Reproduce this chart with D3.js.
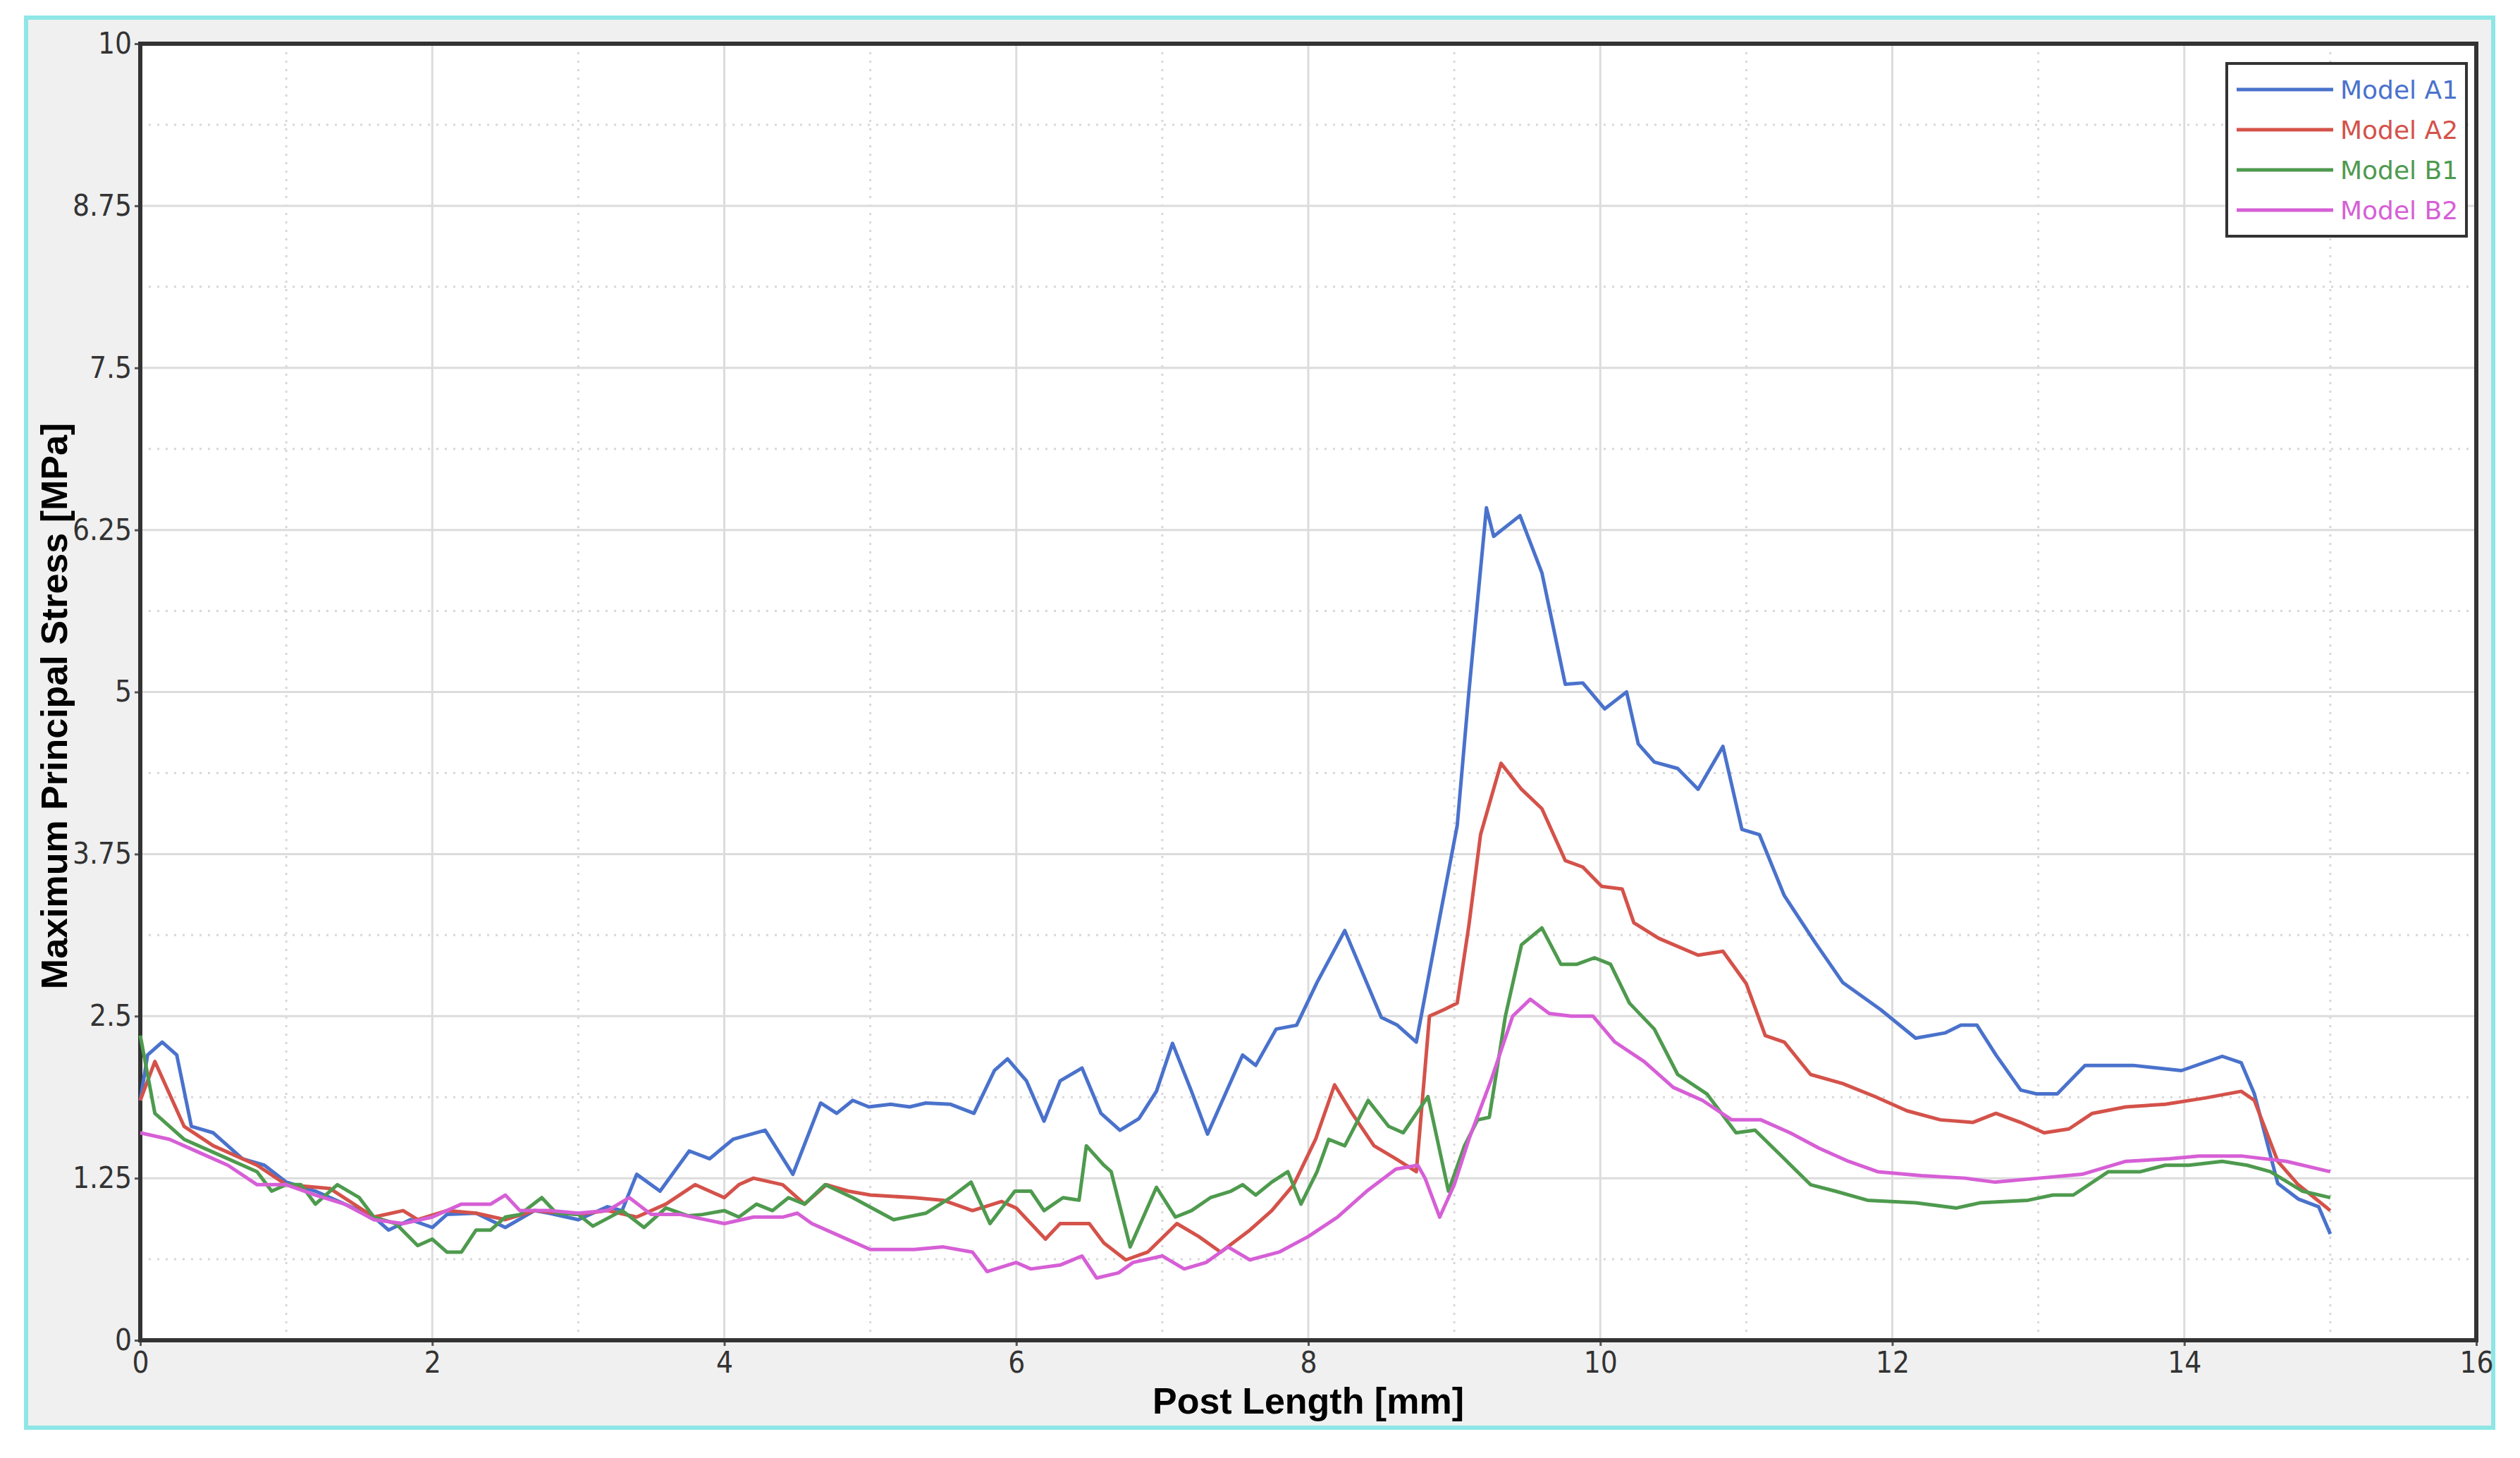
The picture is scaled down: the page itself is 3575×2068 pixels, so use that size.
<!DOCTYPE html>
<html>
<head>
<meta charset="utf-8">
<script src="https://cdn.jsdelivr.net/npm/d3@7"></script>
<style>
  body { margin: 0; background: #fff; }
  text { font-family: "Liberation Sans Narrow", "DejaVu Sans Condensed", "Liberation Sans", sans-serif; }
</style>
</head>
<body>
<svg id="chart" width="3575" height="2068"></svg>
<script>
// series names and colours
var seriesNames = ["Model A1", "Model A2", "Model B1", "Model B2"];
var seriesColors = ["#4a72cc", "#d4524a", "#4e9a4e", "#d65fd6"];

// [post length mm, stress MPa]
var modelA1 = [[0,1.85],[0.05,2.2],[0.15,2.3],[0.25,2.2],[0.35,1.65],[0.5,1.6],[0.7,1.4],[0.85,1.35],[1.0,1.22],[1.2,1.15],[1.4,1.05],[1.6,0.95],[1.7,0.85],[1.85,0.93],[2.0,0.87],[2.1,0.97],[2.3,0.98],[2.5,0.87],[2.7,1.0],[2.8,0.98],[3.0,0.93],[3.2,1.03],[3.3,1.0],
  [3.4,1.28],[3.56,1.15],[3.76,1.46],[3.9,1.4],[4.06,1.55],[4.28,1.62],[4.47,1.28],[4.66,1.83],[4.77,1.75],[4.88,1.85],[4.99,1.8],[5.14,1.82],[5.27,1.8],[5.38,1.83],[5.55,1.82],[5.71,1.75],[5.85,2.08],[5.94,2.17],[6.07,2.0],[6.19,1.69],[6.3,2.0],[6.45,2.1],[6.58,1.75],[6.71,1.62],[6.84,1.71],[6.96,1.92],[7.07,2.29],[7.2,1.92],[7.31,1.59],[7.55,2.2],[7.64,2.12],[7.78,2.4],[7.92,2.43],[8.06,2.76],[8.25,3.16],[8.5,2.49],[8.61,2.43],[8.74,2.3],[8.89,3.2],[9.02,3.97],[9.1,5.0],[9.22,6.42],[9.27,6.2],[9.45,6.36],[9.6,5.92],[9.76,5.06],[9.88,5.07],[10.03,4.87],[10.18,5.0],[10.26,4.6],[10.37,4.46],[10.53,4.41],[10.67,4.25],[10.84,4.58],[10.97,3.94],[11.09,3.9],[11.26,3.43],[11.47,3.07],[11.66,2.76],[11.92,2.55],[12.16,2.33],[12.36,2.37],[12.47,2.43],[12.58,2.43],[12.71,2.2],[12.88,1.93],[12.99,1.9],[13.13,1.9],[13.32,2.12],[13.65,2.12],[13.98,2.08],[14.26,2.19],[14.39,2.14],[14.48,1.9],[14.64,1.21],[14.78,1.09],[14.92,1.03],[15.0,0.82]];

var modelA2 = [[0,1.85],[0.1,2.15],[0.3,1.65],[0.5,1.5],[0.8,1.35],[1.0,1.2],[1.3,1.17],[1.6,0.95],[1.8,1.0],[1.9,0.93],[2.1,1.0],[2.3,0.98],[2.5,0.93],[2.7,1.0],[3.0,0.97],[3.2,1.0],[3.4,0.95],[3.6,1.05],[3.8,1.2],[4.0,1.1],[4.1,1.2],[4.2,1.25],[4.4,1.2],[4.55,1.05],[4.7,1.2],[4.85,1.15],[5.0,1.12],[5.3,1.1],[5.5,1.08],[5.7,1.0],[5.9,1.07],[6.0,1.02],[6.2,0.78],[6.3,0.9],[6.5,0.9],[6.6,0.75],[6.75,0.62],[6.9,0.68],[7.1,0.9],[7.25,0.8],[7.4,0.68],[7.6,0.85],[7.75,1.0],[7.9,1.2],[8.05,1.55],[8.18,1.97],[8.3,1.75],[8.45,1.5],[8.6,1.4],[8.74,1.3],
  [8.83,2.5],[8.93,2.55],[9.02,2.6],[9.1,3.2],[9.18,3.9],[9.32,4.45],[9.46,4.25],[9.6,4.1],[9.76,3.7],[9.88,3.65],[10.01,3.5],[10.15,3.48],[10.23,3.22],[10.4,3.1],[10.67,2.97],[10.84,3.0],[11.0,2.75],[11.13,2.35],[11.26,2.3],[11.44,2.05],[11.66,1.98],[11.88,1.88],[12.1,1.77],[12.33,1.7],[12.55,1.68],[12.71,1.75],[12.88,1.68],[13.04,1.6],[13.21,1.63],[13.37,1.75],[13.6,1.8],[13.87,1.82],[14.15,1.87],[14.39,1.92],[14.48,1.85],[14.64,1.38],[14.78,1.2],[15.0,1.0]];

var modelB1 = [[0,2.35],[0.1,1.75],[0.3,1.55],[0.5,1.45],[0.7,1.35],[0.8,1.3],[0.9,1.15],[1.0,1.2],[1.1,1.2],[1.2,1.05],[1.35,1.2],[1.5,1.1],[1.6,0.95],[1.75,0.9],[1.9,0.73],[2.0,0.78],[2.1,0.68],[2.2,0.68],[2.3,0.85],[2.4,0.85],[2.5,0.95],[2.6,0.97],[2.75,1.1],[2.85,0.98],[3.0,0.97],[3.1,0.88],[3.3,1.0],[3.45,0.87],[3.6,1.02],[3.75,0.96],[3.85,0.97],[4.0,1.0],[4.1,0.95],
  [4.22,1.05],[4.33,1.0],[4.44,1.1],[4.55,1.05],[4.69,1.2],[4.88,1.1],[5.16,0.93],[5.38,0.98],[5.55,1.1],[5.69,1.22],[5.82,0.9],[5.99,1.15],[6.1,1.15],[6.19,1.0],[6.32,1.1],[6.43,1.08],[6.48,1.5],[6.6,1.35],[6.65,1.3],[6.78,0.72],[6.96,1.18],[7.09,0.95],[7.2,1.0],[7.33,1.1],[7.47,1.15],[7.55,1.2],[7.64,1.12],[7.75,1.22],
  [7.86,1.3],[7.95,1.05],[8.06,1.3],[8.14,1.55],[8.25,1.5],[8.41,1.85],[8.55,1.65],[8.65,1.6],[8.82,1.88],[8.96,1.15],[9.07,1.5],[9.16,1.7],[9.24,1.72],[9.35,2.5],[9.46,3.05],[9.6,3.18],[9.73,2.9],[9.84,2.9],[9.96,2.95],[10.07,2.9],[10.2,2.6],[10.37,2.4],[10.53,2.05],[10.73,1.9],[10.93,1.6],[11.06,1.62],[11.26,1.4],[11.44,1.2],[11.61,1.15],[11.83,1.08],[12.16,1.06],[12.44,1.02],[12.6,1.06],[12.93,1.08],[13.1,1.12],[13.24,1.12],[13.48,1.3],[13.7,1.3],[13.87,1.35],[14.03,1.35],[14.26,1.38],[14.43,1.35],[14.59,1.3],[14.81,1.15],[15.0,1.1]];

var modelB2 = [[0,1.6],[0.2,1.55],[0.4,1.45],[0.6,1.35],[0.8,1.2],[1.0,1.2],[1.2,1.12],[1.4,1.05],[1.6,0.93],[1.8,0.9],[2.0,0.95],[2.2,1.05],[2.4,1.05],[2.5,1.12],[2.6,1.0],[2.8,1.0],[3.0,0.98],[3.2,1.0],[3.35,1.1],[3.5,0.97],[3.7,0.97],[4.0,0.9],[4.2,0.95],[4.4,0.95],[4.5,0.98],[4.6,0.9],[4.8,0.8],[5.0,0.7],[5.3,0.7],[5.5,0.72],[5.7,0.68],[5.8,0.53],[6.0,0.6],[6.1,0.55],[6.3,0.58],[6.45,0.65],[6.55,0.48],[6.7,0.52],[6.8,0.6],[7.0,0.65],[7.15,0.55],[7.3,0.6],[7.45,0.72],[7.6,0.62],[7.8,0.68],[8.0,0.8],[8.2,0.95],[8.4,1.15],[8.6,1.32],[8.75,1.35],[8.8,1.25],[8.9,0.95],[9.0,1.2],[9.1,1.55],[9.25,2.0],[9.4,2.5],[9.52,2.63],[9.65,2.52],[9.8,2.5],[9.95,2.5],[10.1,2.3],[10.3,2.15],[10.5,1.95],[10.7,1.85],[10.9,1.7],[11.1,1.7],[11.3,1.6],[11.5,1.48],[11.7,1.38],[11.9,1.3],[12.2,1.27],[12.5,1.25],[12.7,1.22],[13.0,1.25],[13.3,1.28],[13.6,1.38],[13.9,1.4],[14.1,1.42],[14.4,1.42],[14.7,1.38],[15.0,1.3]];

var xTicks = [0, 2, 4, 6, 8, 10, 12, 14, 16];
var yTicks = [0, 1.25, 2.5, 3.75, 5, 6.25, 7.5, 8.75, 10];
var yTickLabels = ["0", "1.25", "2.5", "3.75", "5", "6.25", "7.5", "8.75", "10"];

var allSeries = [modelA1, modelA2, modelB1, modelB2];

var svg = d3.select('#chart');

// outer panel
svg.append('rect').attr('x', 37).attr('y', 25).attr('width', 3500).attr('height', 2000)
  .attr('fill', '#f0f0f0').attr('stroke', '#8ee6e6').attr('stroke-width', 6);

var plotLeft = 199, plotRight = 3513, plotTop = 62, plotBottom = 1901;

var x = d3.scaleLinear().domain([0, 16]).range([plotLeft, plotRight]);
var y = d3.scaleLinear().domain([0, 10]).range([plotBottom, plotTop]);

svg.append('rect').attr('x', plotLeft).attr('y', plotTop)
  .attr('width', plotRight - plotLeft).attr('height', plotBottom - plotTop)
  .attr('fill', '#fff');

// minor dotted grid
var xMinor = d3.range(1, 16, 2), yMinor = d3.range(0.625, 10, 1.25);
svg.append('g').selectAll('line').data(xMinor).enter().append('line')
  .attr('x1', function(d){return x(d);}).attr('x2', function(d){return x(d);})
  .attr('y1', plotTop).attr('y2', plotBottom)
  .attr('stroke', '#d8d8d8').attr('stroke-width', 3).attr('stroke-dasharray', '3,9');
svg.append('g').selectAll('line').data(yMinor).enter().append('line')
  .attr('y1', function(d){return y(d);}).attr('y2', function(d){return y(d);})
  .attr('x1', plotLeft).attr('x2', plotRight)
  .attr('stroke', '#d8d8d8').attr('stroke-width', 3).attr('stroke-dasharray', '3,9');

// major grid
svg.append('g').selectAll('line').data(xTicks).enter().append('line')
  .attr('x1', function(d){return x(d);}).attr('x2', function(d){return x(d);})
  .attr('y1', plotTop).attr('y2', plotBottom)
  .attr('stroke', '#dcdcdc').attr('stroke-width', 3);
svg.append('g').selectAll('line').data(yTicks).enter().append('line')
  .attr('y1', function(d){return y(d);}).attr('y2', function(d){return y(d);})
  .attr('x1', plotLeft).attr('x2', plotRight)
  .attr('stroke', '#dcdcdc').attr('stroke-width', 3);

// axes
var xAxis = svg.append('g').attr('transform', 'translate(0,' + plotBottom + ')')
  .call(d3.axisBottom(x).tickValues(xTicks).tickSize(8).tickPadding(8));
var yAxis = svg.append('g').attr('transform', 'translate(' + plotLeft + ',0)')
  .call(d3.axisLeft(y).tickValues(yTicks).tickSize(8).tickPadding(4)
    .tickFormat(function(d, i){ return yTickLabels[i]; }));
[xAxis, yAxis].forEach(function(a){
  a.select('.domain').remove();
  a.selectAll('line').attr('stroke', '#555').attr('stroke-width', 3);
  a.selectAll('text').attr('font-size', 42).attr('fill', '#333')
    .style('font-family', '"Liberation Sans Narrow", "DejaVu Sans Condensed", sans-serif');
});

// plot frame
svg.append('rect').attr('x', plotLeft).attr('y', plotTop)
  .attr('width', plotRight - plotLeft).attr('height', plotBottom - plotTop)
  .attr('fill', 'none').attr('stroke', '#333').attr('stroke-width', 6);

// lines
var line = d3.line().x(function(d){return x(d[0]);}).y(function(d){return y(d[1]);});
svg.append('g').selectAll('path').data(allSeries).enter().append('path')
  .attr('d', line).attr('fill', 'none')
  .attr('stroke', function(d, i){return seriesColors[i];})
  .attr('stroke-width', 5).attr('stroke-linejoin', 'round');

// axis titles
svg.append('text').attr('x', (plotLeft + plotRight) / 2).attr('y', 2005).attr('text-anchor', 'middle')
  .attr('font-size', 52).attr('font-weight', 'bold').style('font-family', '"Liberation Sans", Arial, sans-serif')
  .text('Post Length [mm]');
svg.append('text').attr('transform', 'translate(95,' + ((plotTop + plotBottom) / 2 + 20) + ') rotate(-90)')
  .attr('text-anchor', 'middle')
  .attr('font-size', 52).attr('font-weight', 'bold').style('font-family', '"Liberation Sans", Arial, sans-serif')
  .text('Maximum Principal Stress [MPa]');

// legend
var legend = svg.append('g');
legend.append('rect').attr('x', 3159).attr('y', 90).attr('width', 340).attr('height', 245)
  .attr('fill', '#fff').attr('stroke', '#333').attr('stroke-width', 4);
var entries = legend.selectAll('g.entry').data(seriesNames).enter().append('g').attr('class', 'entry')
  .attr('transform', function(d, i){ return 'translate(0,' + (127 + i * 57) + ')'; });
entries.append('line').attr('x1', 3173).attr('x2', 3310).attr('y1', 0).attr('y2', 0)
  .attr('stroke', function(d, i){return seriesColors[i];}).attr('stroke-width', 5);
entries.append('text').attr('x', 3320).attr('y', 13).attr('font-size', 36)
  .style('font-family', '"DejaVu Sans", sans-serif')
  .attr('fill', function(d, i){return seriesColors[i];}).text(function(d){return d;});
</script>
</body>
</html>
